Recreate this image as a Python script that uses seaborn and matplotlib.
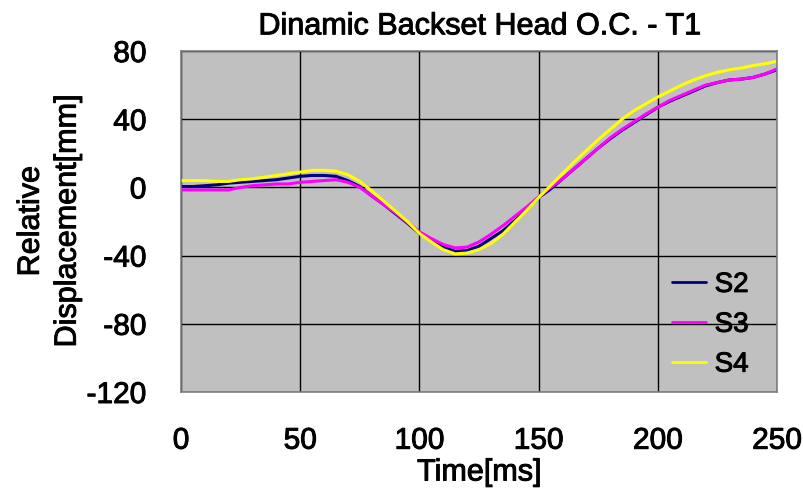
import numpy as np
import pandas as pd
import matplotlib
matplotlib.use("Agg")
import matplotlib.pyplot as plt
import matplotlib.patheffects as pe
import seaborn as sns

# Time axis [ms]
time_ms = list(range(0, 255, 5))

# Relative head displacement [mm] for each seat
s2 = [0.5, 0.5, 1, 1.5, 2.5, 3, 3.5, 4, 4.5, 5.5,
      6.5, 7, 7, 6.5, 4, 0.5, -5, -10, -15.5, -21,
      -27, -31, -35, -37.5, -37, -34.5, -30, -25.5, -19.5, -13,
      -6, -1, 5, 11, 17, 23, 28.5, 33.5, 38, 42.5,
      47, 50.5, 53.5, 56.5, 59.5, 61.5, 63, 63.5, 64.5, 66.5, 69]
s3 = [-1.5, -1.5, -1.5, -1.5, -1.5, 0, 1, 1.5, 2, 2,
      3, 3.5, 4, 4.5, 3, 0, -5, -10, -15, -20.5,
      -26, -30, -33.5, -35.5, -35, -32, -27.5, -22.5, -17, -11.5,
      -5.5, 0, 5, 11, 17, 23, 29, 34, 38.5, 43,
      47, 51, 54, 57, 60, 61.5, 63, 63.5, 64.5, 66.5, 69.5]
s4 = [4, 4, 4, 3.5, 3.5, 4.5, 5, 6, 7, 8,
      9, 10, 10, 9.5, 7.5, 3.5, -2, -8, -14, -20,
      -27, -32, -36.5, -39, -38.5, -36.5, -33, -27.5, -20.5, -13.5,
      -6, 1, 8, 15, 21.5, 28, 34, 40, 45, 49,
      53, 56.5, 60, 63, 65.5, 67.5, 69, 70, 71.5, 72.5, 74]

series_names = ["S2", "S3", "S4"]
series_colors = ["#000080", "#ff00ff", "#ffff00"]

x_ticks = [0, 50, 100, 150, 200, 250]
y_ticks = [-120, -80, -40, 0, 40, 80]

df = pd.concat([
    pd.DataFrame({"Time": time_ms, "Disp": vals, "Seat": name})
    for name, vals in zip(series_names, [s2, s3, s4])
])

sns.set_style("whitegrid", {
    "axes.facecolor": "#c0c0c0",
    "grid.color": "#000000",
    "axes.edgecolor": "#808080",
    "text.color": "black",
    "axes.labelcolor": "black",
    "xtick.color": "black",
    "ytick.color": "black",
})
plt.rcParams["font.family"] = ["Liberation Sans", "DejaVu Sans"]
plt.rcParams["axes.unicode_minus"] = False

fig = plt.figure(figsize=(8.04, 4.95), dpi=100)
ax = fig.add_axes([181 / 804, 1 - 392 / 495, (777 - 181) / 804, (392 - 51) / 495])

sns.lineplot(data=df, x="Time", y="Disp", hue="Seat",
             palette=dict(zip(series_names, series_colors)),
             linewidth=2.2, ax=ax)

ax.set_xlim(0, 250)
ax.set_ylim(-120, 80)
ax.set_xticks(x_ticks)
ax.set_yticks(y_ticks)
ax.grid(True, color="black", linewidth=1.0)
for sp in ax.spines.values():
    sp.set_color("#808080")
    sp.set_linewidth(1.2)

ax.tick_params(axis="x", length=0, pad=25, labelsize=21.5, labelcolor="black")
ax.tick_params(axis="y", length=0, pad=25, labelsize=21.5, labelcolor="black")

ax.set_xlabel("Time[ms]", fontsize=22, color="black", labelpad=2)
ax.set_ylabel("Relative\nDisplacement[mm]", fontsize=22, color="black",
              linespacing=1.3)
ax.yaxis.set_label_coords(-0.165, 0.5)
ax.set_title("Dinamic Backset Head O.C. - T1", fontsize=22, color="black", pad=12)

leg = ax.legend(loc="lower right", frameon=False, fontsize=20,
                handlelength=1.25, handletextpad=0.3, labelspacing=0.5,
                borderaxespad=0.3, bbox_to_anchor=(0.985, -0.015))
for t in leg.get_texts():
    t.set_color("black")
for h in leg.get_lines():
    h.set_linewidth(2.0)

# Slightly heavier strokes for all text
heavy = [pe.withStroke(linewidth=0.7, foreground="black")]
for t in (ax.get_xticklabels() + ax.get_yticklabels() + leg.get_texts()
          + [ax.xaxis.label, ax.yaxis.label, ax.title]):
    t.set_path_effects(heavy)

fig.savefig("out.png", dpi=100)
